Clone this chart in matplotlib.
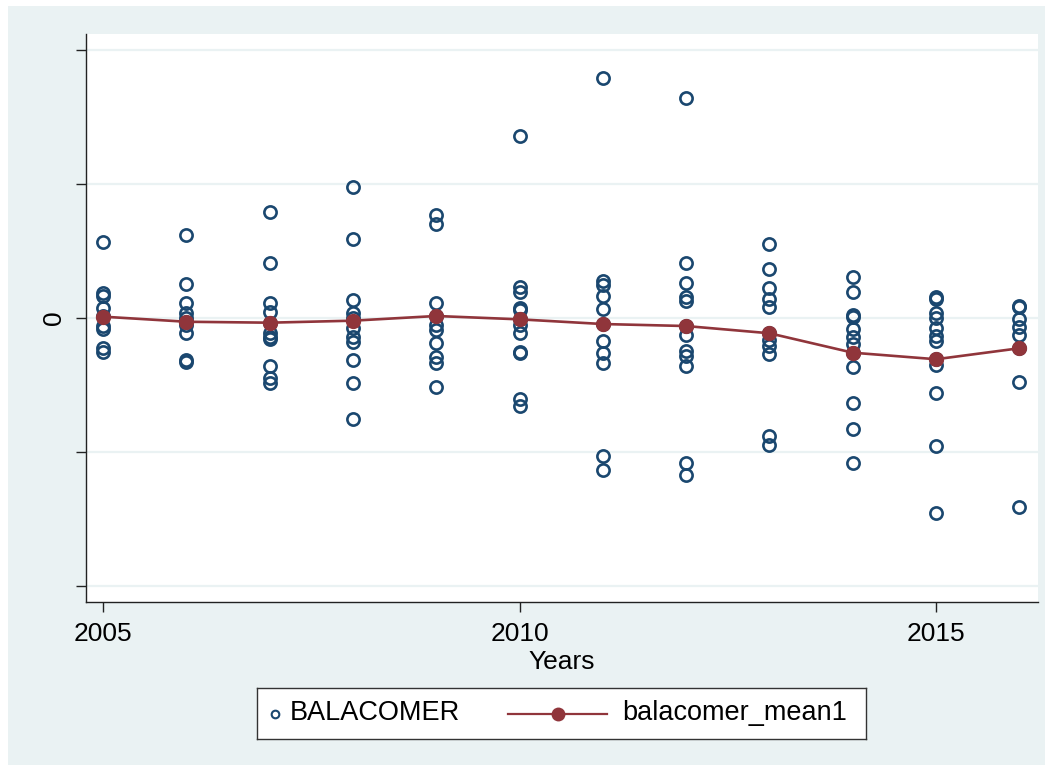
import numpy as np
import matplotlib.pyplot as plt
from matplotlib.patches import Rectangle
from matplotlib.lines import Line2D

plt.rcParams['font.family'] = ['Liberation Sans', 'DejaVu Sans']

# BALACOMER 各年觀測值
bal_2005 = [0.568, 0.187, 0.164, 0.075, 0.015, -0.060, -0.082, -0.224, -0.254]
bal_2006 = [0.622, 0.254, 0.114, 0.040, 0.000, -0.028, -0.052, -0.114, -0.314, -0.326]
bal_2007 = [0.789, 0.409, 0.114, 0.045, -0.035, -0.110, -0.140, -0.159, -0.356, -0.446, -0.488]
bal_2008 = [0.981, 0.592, 0.134, 0.035, 0.000, -0.077, -0.140, -0.177, -0.314, -0.483, -0.757]
bal_2009 = [0.769, 0.702, 0.110, 0.015, -0.052, -0.090, -0.184, -0.289, -0.334, -0.513]
bal_2010 = [1.359, 0.234, 0.196, 0.072, 0.063, -0.010, -0.052, -0.114, -0.252, -0.259, -0.607, -0.657]
bal_2011 = [1.790, 0.279, 0.246, 0.164, 0.065, -0.045, -0.170, -0.264, -0.334, -1.031, -1.135]
bal_2012 = [1.641, 0.409, 0.259, 0.159, 0.129, -0.060, -0.127, -0.244, -0.284, -0.358, -1.081, -1.173]
bal_2013 = [0.553, 0.364, 0.222, 0.140, 0.080, -0.114, -0.164, -0.209, -0.269, -0.881, -0.948]
bal_2014 = [0.308, 0.196, 0.022, 0.005, -0.084, -0.144, -0.194, -0.259, -0.364, -0.637, -0.831, -1.081]
bal_2015 = [0.155, 0.140, 0.040, -0.002, -0.077, -0.134, -0.170, -0.308, -0.351, -0.562, -0.956, -1.454]
bal_2016 = [0.090, 0.080, -0.010, -0.065, -0.127, -0.226, -0.476, -1.409]

years = np.arange(2005, 2017)
bal_by_year = [bal_2005, bal_2006, bal_2007, bal_2008, bal_2009, bal_2010,
               bal_2011, bal_2012, bal_2013, bal_2014, bal_2015, bal_2016]

# 年平均
bal_mean1 = [0.010, -0.028, -0.035, -0.020, 0.015, -0.010,
             -0.045, -0.060, -0.114, -0.259, -0.308, -0.226]

y_ticks = [-2, -1, 0, 1, 2]
y_tick_labels = ['', '', '0', '', '']
x_ticks = [2005, 2010, 2015]

NAVY = '#1A476F'
MAROON = '#90353B'
BG = '#EAF2F3'
FS = 19

fig = plt.figure(figsize=(10.52, 7.72), dpi=100, facecolor='white')
fig.patches.append(Rectangle((8 / 1052, 1 - 765 / 772), 1037 / 1052, 759 / 772,
                             transform=fig.transFigure, facecolor=BG,
                             edgecolor='none', zorder=-10))

ax = fig.add_axes([86 / 1052, 1 - 602 / 772, 952 / 1052, 568 / 772])
ax.set_facecolor('white')

xs = np.concatenate([[y] * len(v) for y, v in zip(years, bal_by_year)])
ys = np.concatenate(bal_by_year)
ax.plot(xs, ys, linestyle='none', marker='o', markersize=8.8,
        markerfacecolor='none', markeredgecolor=NAVY, markeredgewidth=1.9,
        zorder=3)
ax.plot(years, bal_mean1, color=MAROON, linewidth=1.9, marker='o',
        markersize=11, markeredgewidth=0, zorder=4)

ax.set_xlim(2004.796, 2016.224)
ax.set_ylim(-2.121, 2.121)
ax.set_yticks(y_ticks, labels=y_tick_labels)
ax.set_xticks(x_ticks)
ax.grid(axis='y', color=BG, linewidth=1.6, zorder=0)
ax.set_axisbelow(True)

for s in ['top', 'right']:
    ax.spines[s].set_visible(False)
for s in ['left', 'bottom']:
    ax.spines[s].set_color('#222222')
    ax.spines[s].set_linewidth(1.0)

ax.tick_params(axis='y', length=7.5, width=1.0, color='#222222', pad=7,
               labelsize=FS, labelrotation=90)
ax.tick_params(axis='x', length=7.5, width=1.0, color='#222222', pad=7,
               labelsize=FS)
for lbl in ax.get_yticklabels():
    lbl.set_va('center')
ax.set_xlabel('Years', fontsize=FS, labelpad=3)

# 圖例
lax = fig.add_axes([257 / 1052, 1 - 739 / 772, 609 / 1052, 51 / 772])
lax.set_xlim(0, 1)
lax.set_ylim(0, 1)
lax.set_xticks([])
lax.set_yticks([])
lax.set_facecolor('white')
for s in lax.spines.values():
    s.set_color('#333333')
    s.set_linewidth(1.0)
lax.add_line(Line2D([0.0296], [0.5], linestyle='none', marker='o', markersize=5.5,
                    markerfacecolor='none', markeredgecolor=NAVY,
                    markeredgewidth=1.5))
lax.text(0.054, 0.5, 'BALACOMER', fontsize=19.5, va='center', ha='left')
lax.add_line(Line2D([0.412, 0.575], [0.5, 0.5], color=MAROON, linewidth=1.6))
lax.add_line(Line2D([0.494], [0.5], linestyle='none', marker='o',
                    markersize=10, color=MAROON, markeredgewidth=0))
lax.text(0.599, 0.5, 'balacomer_mean1', fontsize=19.5, va='center', ha='left')

plt.savefig('out.png', dpi=100, facecolor=fig.get_facecolor())
plt.close()
